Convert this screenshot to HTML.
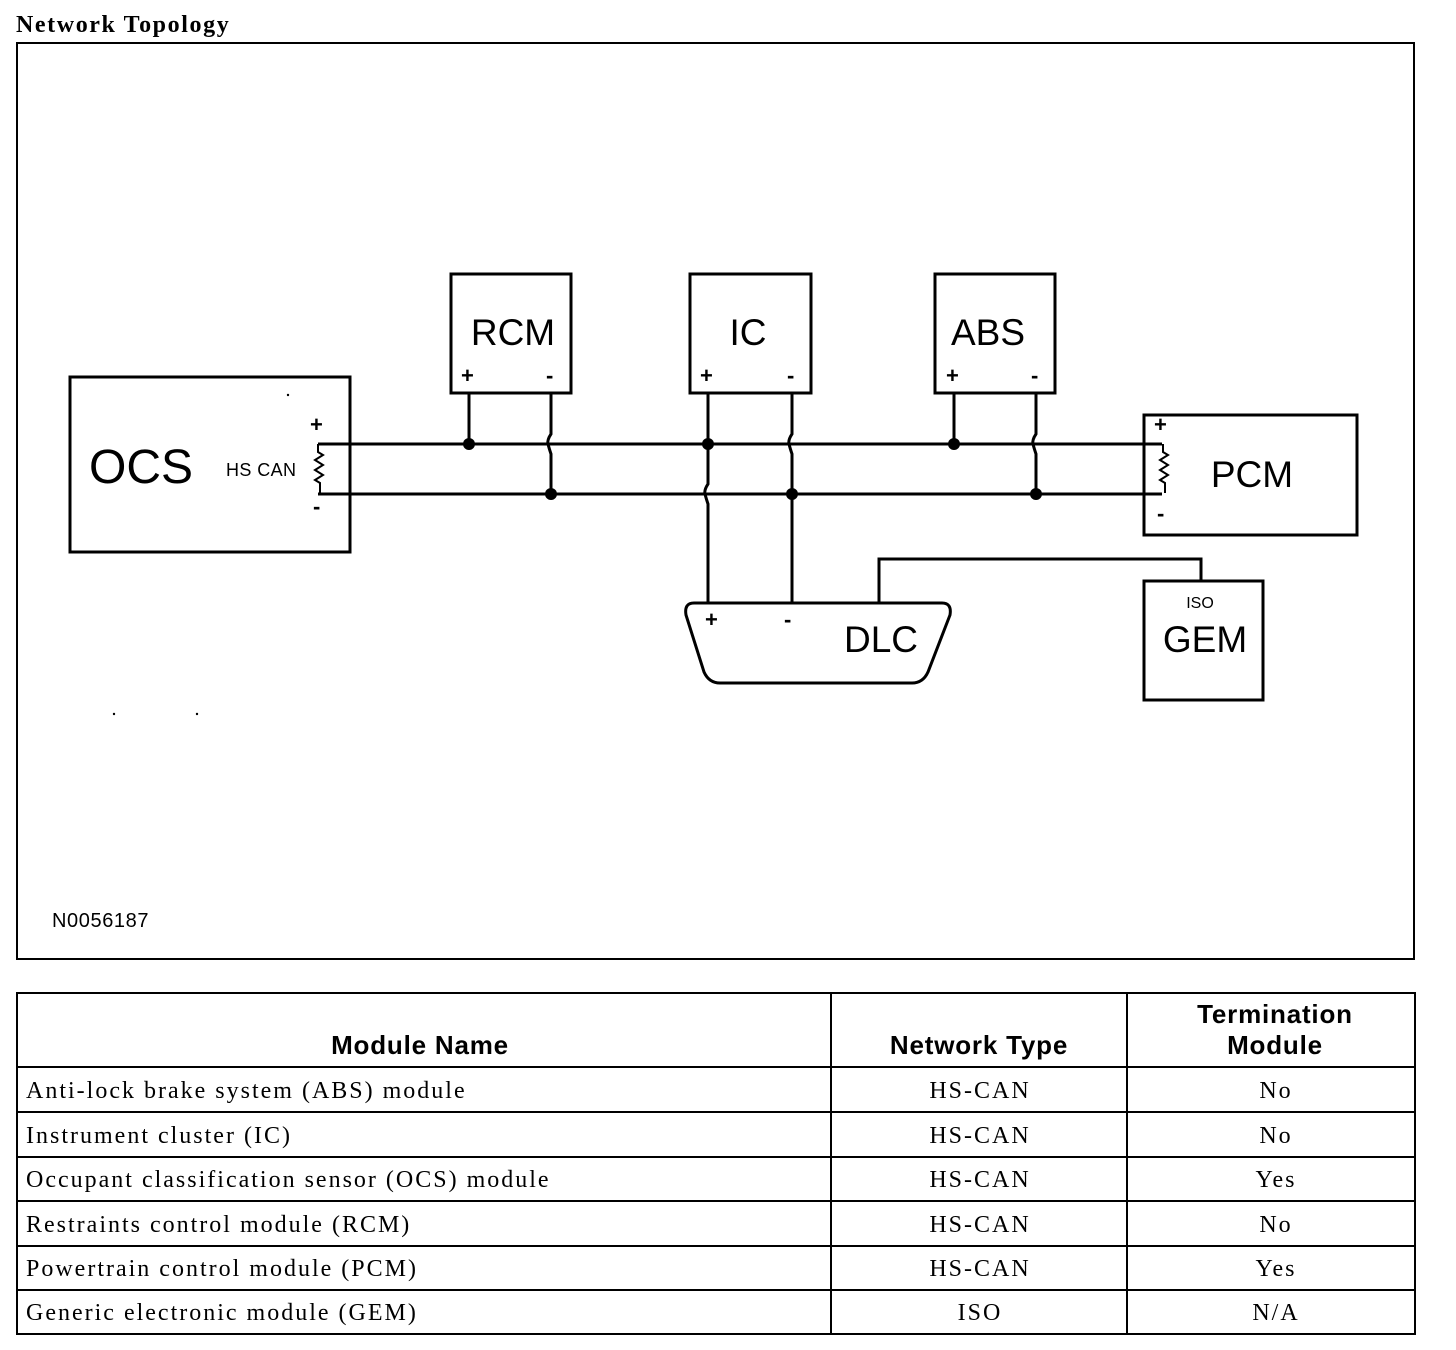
<!DOCTYPE html>
<html><head><meta charset="utf-8"><style>
html,body{margin:0;padding:0;background:#fff;width:1456px;height:1350px;overflow:hidden}
svg{position:absolute;left:0;top:0}
</style></head><body>
<svg width="1456" height="1350" viewBox="0 0 1456 1350" xmlns="http://www.w3.org/2000/svg">
<g font-family="Liberation Serif, serif" fill="#000">
<text x="16" y="32" font-size="24" font-weight="bold" letter-spacing="1.6">Network Topology</text>
</g>
<rect x="17" y="43" width="1397" height="916" fill="none" stroke="#000" stroke-width="2"/>
<g fill="none" stroke="#000" stroke-width="3">
<rect x="70" y="377" width="280" height="175"/>
<rect x="451" y="274" width="120" height="119"/>
<rect x="690" y="274" width="121" height="119"/>
<rect x="935" y="274" width="120" height="119"/>
<rect x="1144" y="415" width="213" height="120"/>
<rect x="1144" y="581" width="119" height="119"/>
<path d="M318 444 H1162 M318 494 H1162"/>
<path d="M318 444 v8 l5 3 l-8 5 l8 5 l-8 5 l8 5 l-8 5 l5 3 v10" stroke-width="2"/>
<path d="M1163 444 v8 l5 3 l-8 5 l8 5 l-8 5 l8 5 l-8 5 l5 3 v10" stroke-width="2"/>
<path d="M469 393 V444"/>
<path d="M551 393 V434 q-4 6 -3 10 q1 4 3 10 V494"/>
<path d="M708 393 V484 q-4 6 -3 10 q1 4 3 10 V603"/>
<path d="M792 393 V434 q-4 6 -3 10 q1 4 3 10 V603"/>
<path d="M954 393 V444"/>
<path d="M1036 393 V434 q-4 6 -3 10 q1 4 3 10 V494"/>
<path d="M879 603 V559 H1201 V581"/>
<path d="M694 603 H942 Q952 603 950 615 L928 672 Q923 683 912 683 H720 Q709 683 704 672 L686 615 Q684 603 694 603 Z"/>
</g>
<g fill="#000">
<circle cx="469" cy="444" r="6"/><circle cx="551" cy="494" r="6"/>
<circle cx="708" cy="444" r="6"/><circle cx="792" cy="494" r="6"/>
<circle cx="954" cy="444" r="6"/><circle cx="1036" cy="494" r="6"/>
<circle cx="288" cy="395" r="1.2"/><circle cx="114" cy="714" r="1.2"/><circle cx="197" cy="714" r="1.2"/>
</g>
<g font-family="Liberation Sans, sans-serif" fill="#000">
<text x="89" y="483" font-size="48">OCS</text>
<text x="226" y="476" font-size="18" letter-spacing="0.4">HS CAN</text>
<g font-size="22" font-weight="bold">
<text x="310" y="432">+</text>
<text x="313" y="514">-</text>
<text x="461" y="383">+</text>
<text x="546" y="383">-</text>
<text x="700" y="383">+</text>
<text x="787" y="383">-</text>
<text x="946" y="383">+</text>
<text x="1031" y="383">-</text>
<text x="1154" y="432">+</text>
<text x="1157" y="521">-</text>
<text x="705" y="627">+</text>
<text x="784" y="627">-</text>
</g>
<text x="513" y="345" font-size="37" text-anchor="middle">RCM</text>
<text x="748" y="345" font-size="37" text-anchor="middle">IC</text>
<text x="988" y="345" font-size="37" text-anchor="middle">ABS</text>
<text x="1252" y="487" font-size="37" text-anchor="middle">PCM</text>
<text x="881" y="652" font-size="37" text-anchor="middle">DLC</text>
<text x="1200" y="608" font-size="16" text-anchor="middle">ISO</text>
<text x="1205" y="652" font-size="37" text-anchor="middle">GEM</text>
<text x="52" y="927" font-size="20" letter-spacing="0.6">N0056187</text>
</g>
<g fill="none" stroke="#000" stroke-width="2">
<rect x="17" y="993" width="1398" height="341"/>
<path d="M831 993 V1334 M1127 993 V1334 M17 1067 H1415 M17 1112 H1415 M17 1157 H1415 M17 1201 H1415 M17 1246 H1415 M17 1290 H1415"/>
</g>
<g font-family="Liberation Sans, sans-serif" font-weight="bold" font-size="26" fill="#000" text-anchor="middle" letter-spacing="0.8">
<text x="420" y="1054">Module Name</text>
<text x="979" y="1054">Network Type</text>
<text x="1275" y="1023">Termination</text>
<text x="1275" y="1054">Module</text>
</g>
<g font-family="Liberation Serif, serif" font-size="24" fill="#000" letter-spacing="2">
<text x="26" y="1098">Anti-lock brake system (ABS) module</text>
<text x="26" y="1143">Instrument cluster (IC)</text>
<text x="26" y="1187">Occupant classification sensor (OCS) module</text>
<text x="26" y="1232">Restraints control module (RCM)</text>
<text x="26" y="1276">Powertrain control module (PCM)</text>
<text x="26" y="1320">Generic electronic module (GEM)</text>
</g>
<g font-family="Liberation Serif, serif" font-size="24" fill="#000" text-anchor="middle" letter-spacing="2">
<text x="980" y="1098">HS-CAN</text><text x="1276" y="1098">No</text>
<text x="980" y="1143">HS-CAN</text><text x="1276" y="1143">No</text>
<text x="980" y="1187">HS-CAN</text><text x="1276" y="1187">Yes</text>
<text x="980" y="1232">HS-CAN</text><text x="1276" y="1232">No</text>
<text x="980" y="1276">HS-CAN</text><text x="1276" y="1276">Yes</text>
<text x="980" y="1320">ISO</text><text x="1276" y="1320">N/A</text>
</g>
</svg>
</body></html>
